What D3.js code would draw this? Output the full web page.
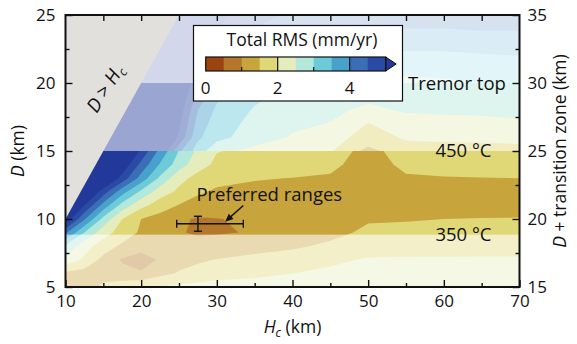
<!DOCTYPE html>
<html>
<head>
<meta charset="utf-8">
<script src="https://cdn.jsdelivr.net/npm/d3@7"></script>
<style>
  body { margin: 0; background: #fff; }
  svg { display: block; font-family: "Open Sans", sans-serif; }
</style>
</head>
<body>
<svg id="chart" width="577" height="344"></svg>
<script>
// grid of the RMS field (mm/yr), rows = D (km), columns = Hc (km)
// D = 15 appears twice: the field jumps at the 450 °C line
const hcGrid = [10, 12.5, 15, 17.5, 20, 22.5, 25, 27.5, 30, 35, 40, 45, 50, 55, 60, 65, 70];
const dGrid = [5, 6, 7, 8, 9, 10, 11, 12, 13, 14, 15, 15, 16, 17, 18, 19, 20, 21, 22, 23, 24, 25];
const rms = [
  [0.9, 1.3, 1.6, 1.8, 1.95, 2.05, 2.1, 2.15, 2.2, 2.2, 2.2, 2.2, 2.2, 2.2, 2.2, 2.2, 2.2],
  [1.4, 1.3, 1.3, 1.15, 1.05, 1.35, 1.55, 1.7, 1.8, 1.9, 2.0, 2.1, 2.15, 2.15, 2.15, 2.15, 2.15],
  [2.4, 1.9, 1.35, 0.95, 0.82, 1.05, 1.3, 1.42, 1.52, 1.65, 1.75, 1.9, 2.05, 2.05, 2.05, 2.05, 2.05],
  [2.9, 2.2, 1.75, 1.4, 1.15, 1.15, 1.12, 1.15, 1.2, 1.3, 1.42, 1.6, 1.75, 1.8, 1.82, 1.85, 1.85],
  [4.1, 3.0, 2.2, 1.8, 1.42, 1.2, 1.03, 0.95, 0.96, 1.03, 1.2, 1.35, 1.6, 1.62, 1.65, 1.68, 1.7],
  [5.4, 4.05, 2.85, 2.0, 1.5, 1.3, 1.08, 0.95, 0.98, 1.1, 1.2, 1.3, 1.45, 1.47, 1.5, 1.52, 1.53],
  [6, 5.0, 3.8, 2.8, 2.15, 1.75, 1.47, 1.35, 1.3, 1.25, 1.2, 1.2, 1.2, 1.22, 1.25, 1.25, 1.25],
  [6, 5.8, 4.75, 3.7, 2.9, 2.25, 1.9, 1.55, 1.45, 1.38, 1.35, 1.3, 1.25, 1.3, 1.3, 1.3, 1.3],
  [6, 6, 5.8, 4.8, 3.8, 2.9, 2.15, 1.85, 1.6, 1.53, 1.49, 1.45, 1.3, 1.45, 1.47, 1.49, 1.5],
  [6, 6, 6, 5.4, 4.35, 3.45, 2.75, 2.2, 1.9, 1.82, 1.75, 1.6, 1.3, 1.6, 1.7, 1.7, 1.7],
  [6, 6, 6, 6, 4.9, 3.85, 2.98, 2.4, 2.02, 1.88, 1.82, 1.72, 1.35, 1.72, 1.78, 1.78, 1.78],
  [6.5, 6.5, 6.5, 6.5, 6.5, 5.6, 4.1, 3.25, 2.65, 2.35, 2.2, 2.05, 1.35, 1.85, 1.9, 1.92, 1.95],
  [6.5, 6.5, 6.5, 6.5, 6.5, 6, 4.9, 3.6, 3.15, 2.75, 2.45, 2.2, 1.8, 2.05, 2.05, 2.05, 2.05],
  [6.5, 6.5, 6.5, 6.5, 6.5, 6.3, 5.1, 3.8, 3.25, 2.85, 2.6, 2.48, 1.98, 2.3, 2.3, 2.35, 2.4],
  [6.5, 6.5, 6.5, 6.5, 6.5, 6.4, 5.3, 4.0, 3.4, 2.95, 2.75, 2.6, 2.4, 2.55, 2.6, 2.6, 2.65],
  [6.5, 6.5, 6.5, 6.5, 6.5, 6.4, 5.5, 4.3, 3.6, 3.1, 2.85, 2.75, 2.6, 2.7, 2.75, 2.8, 2.8],
  [6.5, 6.5, 6.5, 6.5, 6.5, 6.5, 5.7, 4.6, 3.9, 3.35, 3.05, 2.95, 2.85, 2.9, 2.95, 3.0, 3.0],
  [6.5, 6.5, 6.5, 6.5, 6.5, 6.5, 6, 5.0, 4.2, 3.6, 3.3, 3.2, 3.1, 3.1, 3.1, 3.15, 3.15],
  [6.5, 6.5, 6.5, 6.5, 6.5, 6.5, 6, 5.3, 4.5, 3.9, 3.6, 3.5, 3.4, 3.4, 3.4, 3.45, 3.5],
  [6.5, 6.5, 6.5, 6.5, 6.5, 6.5, 6.2, 5.5, 4.8, 4.2, 3.9, 3.8, 3.7, 3.7, 3.7, 3.75, 3.75],
  [6.5, 6.5, 6.5, 6.5, 6.5, 6.5, 6.3, 5.7, 5.0, 4.5, 4.2, 4.1, 4.0, 4.0, 4.0, 4.05, 4.05],
  [6.5, 6.5, 6.5, 6.5, 6.5, 6.5, 6.4, 5.8, 5.2, 4.7, 4.4, 4.3, 4.2, 4.2, 4.2, 4.2, 4.2]
];

const levels = [0.5, 1, 1.5, 2, 2.5, 3, 3.5, 4, 4.5, 5];
const levelColors = ['#9b4412', '#b3782b', '#c8a43d', '#e0d777', '#e6edbd', '#b3e8da',
  '#6dcbd9', '#48a0cc', '#3a6fb6', '#2b4aa6', '#22399a'];

const xTicks = [10, 20, 30, 40, 50, 60, 70];
const yTicks = [5, 10, 15, 20, 25];
const rightTicks = [15, 20, 25, 30, 35];
const cbTicks = [0, 2, 4];

// faded depth bands outside the tremor zone
const washBands = [
  { from: 20, to: 25, opacity: 0.8 },
  { from: 15, to: 20, opacity: 0.55 },
  { from: 5, to: 8.85, opacity: 0.6 }
];
const isotherms = [
  { label: '450 °C', hc: 66.3, d: 15.05 },
  { label: '350 °C', hc: 66.3, d: 8.9 }
];
const tremorTop = { label: 'Tremor top', hc: 68.2, d: 20 };
const preferred = { hc: 27.5, hcRange: [24.7, 33.5], d: 9.65, dRange: [9.1, 10.2] };

const svg = d3.select('#chart');
const plot = { left: 65.5, right: 519.5, top: 15, bottom: 287 };
const x = d3.scaleLinear().domain([10, 70]).range([plot.left, plot.right]);
const y = d3.scaleLinear().domain([5, 25]).range([plot.bottom, plot.top]);
const yRight = d3.scaleLinear().domain([15, 35]).range([plot.bottom, plot.top]);
const labelSize = 17.5, annSize = 18.5, tickSize = 17;

svg.append('defs').append('clipPath').attr('id', 'plotClip')
  .append('rect')
  .attr('x', plot.left).attr('y', plot.top)
  .attr('width', plot.right - plot.left).attr('height', plot.bottom - plot.top);

// contour field, grid index -> (Hc, D) through polylinear scales
const colIndex = d3.scaleLinear().domain(d3.range(hcGrid.length)).range(hcGrid).clamp(true);
const rowIndex = d3.scaleLinear().domain(d3.range(dGrid.length)).range(dGrid).clamp(true);
const contours = d3.contours().size([hcGrid.length, dGrid.length]).thresholds(levels)(rms.flat());
const proj = d3.geoTransform({
  point(px, py) {
    this.stream.point(x(colIndex(px - 0.5)), y(rowIndex(py - 0.5)));
  }
});
const path = d3.geoPath(proj);

const field = svg.append('g').attr('clip-path', 'url(#plotClip)');
field.append('rect')
  .attr('x', plot.left).attr('y', plot.top)
  .attr('width', plot.right - plot.left).attr('height', plot.bottom - plot.top)
  .attr('fill', levelColors[0]);
field.selectAll('path.band')
  .data(contours)
  .join('path')
  .attr('class', 'band')
  .attr('d', path)
  .attr('fill', (d, i) => levelColors[i + 1]);

field.selectAll('rect.wash')
  .data(washBands)
  .join('rect')
  .attr('class', 'wash')
  .attr('x', plot.left).attr('width', plot.right - plot.left)
  .attr('y', (d) => y(d.to)).attr('height', (d) => y(d.from) - y(d.to))
  .attr('fill', '#fff').attr('fill-opacity', (d) => d.opacity);

// D > Hc is not allowed
field.append('path')
  .attr('d', d3.line().x((d) => x(d[0])).y((d) => y(d[1]))([[10, 10], [25, 25], [10, 25]]))
  .attr('fill', '#e1e0dc');

// axes, ticks inward
const tickStyle = (g) => g.call((s) => s.select('.domain').remove())
  .call((s) => s.selectAll('.tick line').attr('stroke', '#111').attr('stroke-width', 1.4))
  .call((s) => s.selectAll('.tick text').attr('fill', '#111').attr('font-size', tickSize)
    .attr('font-family', '"Open Sans", sans-serif'));

svg.append('g').attr('transform', `translate(0,${plot.bottom})`)
  .call(d3.axisBottom(x).tickValues(d3.range(15, 70, 10)).tickSize(-4).tickFormat(''))
  .call(tickStyle);
svg.append('g').attr('transform', `translate(0,${plot.bottom})`)
  .call(d3.axisBottom(x).tickValues(xTicks).tickSize(-7).tickPadding(8))
  .call(tickStyle);
svg.append('g').attr('transform', `translate(0,${plot.top})`)
  .call(d3.axisTop(x).tickValues(d3.range(15, 70, 5)).tickSize(-6).tickFormat(''))
  .call(tickStyle);
svg.append('g').attr('transform', `translate(${plot.left},0)`)
  .call(d3.axisLeft(y).tickValues(d3.range(7.5, 25, 5)).tickSize(-4).tickFormat(''))
  .call(tickStyle);
svg.append('g').attr('transform', `translate(${plot.left},0)`)
  .call(d3.axisLeft(y).tickValues(yTicks).tickSize(-7).tickPadding(10))
  .call(tickStyle);
svg.append('g').attr('transform', `translate(${plot.right},0)`)
  .call(d3.axisRight(yRight).tickValues(d3.range(17.5, 35, 5)).tickSize(-4).tickFormat(''))
  .call(tickStyle);
svg.append('g').attr('transform', `translate(${plot.right},0)`)
  .call(d3.axisRight(yRight).tickValues(rightTicks).tickSize(-7).tickPadding(8))
  .call(tickStyle);

svg.append('rect')
  .attr('x', plot.left).attr('y', plot.top)
  .attr('width', plot.right - plot.left).attr('height', plot.bottom - plot.top)
  .attr('fill', 'none').attr('stroke', '#111').attr('stroke-width', 2);

// axis titles
const bottomTitle = svg.append('text')
  .attr('x', (plot.left + plot.right) / 2).attr('y', 333)
  .attr('text-anchor', 'middle').attr('font-size', labelSize).attr('fill', '#111');
bottomTitle.append('tspan').attr('font-style', 'italic').text('H');
bottomTitle.append('tspan').attr('font-style', 'italic').attr('font-size', 12).attr('dy', 4).text('c');
bottomTitle.append('tspan').attr('dy', -4).text(' (km)');

const leftTitle = svg.append('text')
  .attr('transform', `translate(24,${(plot.top + plot.bottom) / 2}) rotate(-90)`)
  .attr('text-anchor', 'middle').attr('font-size', labelSize).attr('fill', '#111');
leftTitle.append('tspan').attr('font-style', 'italic').text('D');
leftTitle.append('tspan').text(' (km)');

const rightTitle = svg.append('text')
  .attr('transform', `translate(566,${(plot.top + plot.bottom) / 2}) rotate(-90)`)
  .attr('text-anchor', 'middle').attr('font-size', labelSize).attr('fill', '#111');
rightTitle.append('tspan').attr('font-style', 'italic').text('D');
rightTitle.append('tspan').text(' + transition zone (km)');

// labels inside the plot
const ann = svg.append('g').attr('fill', '#111').attr('font-size', annSize);
ann.selectAll('text.iso')
  .data(isotherms.concat([tremorTop]))
  .join('text')
  .attr('class', 'iso')
  .attr('x', (d) => x(d.hc)).attr('y', (d) => y(d.d))
  .attr('dy', '0.36em').attr('text-anchor', 'end')
  .text((d) => d.label);

const dh = ann.append('text')
  .attr('transform', `translate(${x(15.2)},${y(19.6)}) rotate(-58)`)
  .attr('text-anchor', 'middle').attr('dy', '0.35em').attr('font-size', 19);
dh.append('tspan').attr('font-style', 'italic').text('D');
dh.append('tspan').text(' > ');
dh.append('tspan').attr('font-style', 'italic').text('H');
dh.append('tspan').attr('font-style', 'italic').attr('font-size', 12.5).attr('dy', 4).text('c');

ann.append('text')
  .attr('x', x(27.3)).attr('y', y(11.85)).attr('dy', '0.36em')
  .text('Preferred ranges');

// error bars of the preferred Hc and D
const eb = svg.append('g').attr('stroke', '#111').attr('stroke-width', 1.4).attr('fill', 'none');
eb.append('line')
  .attr('x1', x(preferred.hcRange[0])).attr('x2', x(preferred.hcRange[1]))
  .attr('y1', y(preferred.d)).attr('y2', y(preferred.d));
preferred.hcRange.forEach((v) => {
  eb.append('line').attr('x1', x(v)).attr('x2', x(v))
    .attr('y1', y(preferred.d) - 4).attr('y2', y(preferred.d) + 4);
});
eb.append('line')
  .attr('x1', x(preferred.hc)).attr('x2', x(preferred.hc))
  .attr('y1', y(preferred.dRange[0])).attr('y2', y(preferred.dRange[1]));
preferred.dRange.forEach((v) => {
  eb.append('line').attr('x1', x(preferred.hc) - 4).attr('x2', x(preferred.hc) + 4)
    .attr('y1', y(v)).attr('y2', y(v));
});

// arrow from the label to the bars
const ax0 = x(33.5), ay0 = y(11.0), ax1 = x(31.1), ay1 = y(9.8);
const ang = Math.atan2(ay1 - ay0, ax1 - ax0);
eb.append('line').attr('x1', ax0).attr('y1', ay0)
  .attr('x2', ax1 - 5 * Math.cos(ang)).attr('y2', ay1 - 5 * Math.sin(ang));
svg.append('path')
  .attr('d', d3.line()([
    [ax1, ay1],
    [ax1 - 8 * Math.cos(ang) + 3.5 * Math.sin(ang), ay1 - 8 * Math.sin(ang) - 3.5 * Math.cos(ang)],
    [ax1 - 8 * Math.cos(ang) - 3.5 * Math.sin(ang), ay1 - 8 * Math.sin(ang) + 3.5 * Math.cos(ang)]
  ]) + 'Z')
  .attr('fill', '#111');

// colour bar legend
const legend = svg.append('g');
legend.append('rect')
  .attr('x', 193.5).attr('y', 25.5).attr('width', 209).attr('height', 75.5)
  .attr('fill', '#fff').attr('stroke', '#111').attr('stroke-width', 1.2);
legend.append('text')
  .attr('x', 302).attr('y', 46).attr('text-anchor', 'middle')
  .attr('font-size', labelSize).attr('fill', '#111')
  .text('Total RMS (mm/yr)');

const cb = d3.scaleLinear().domain([0, 5]).range([205.7, 385.7]);
const cbTop = 57, cbBottom = 71;
const steps = d3.range(levels.length).map((i) => [i === 0 ? 0 : levels[i - 1], levels[i]]);
legend.selectAll('rect.step')
  .data(steps)
  .join('rect')
  .attr('class', 'step')
  .attr('x', (d) => cb(d[0])).attr('width', (d) => cb(d[1]) - cb(d[0]) + 0.3)
  .attr('y', cbTop).attr('height', cbBottom - cbTop)
  .attr('fill', (d, i) => levelColors[i]);
legend.append('path')
  .attr('d', `M${cb(5)},${cbTop}L${cb(5) + 10.5},${(cbTop + cbBottom) / 2}L${cb(5)},${cbBottom}Z`)
  .attr('fill', levelColors[10]).attr('stroke', '#111').attr('stroke-width', 1);
legend.append('rect')
  .attr('x', cb(0)).attr('y', cbTop).attr('width', cb(5) - cb(0)).attr('height', cbBottom - cbTop)
  .attr('fill', 'none').attr('stroke', '#111').attr('stroke-width', 1.2);
legend.selectAll('line.major')
  .data([2, 4])
  .join('line')
  .attr('class', 'major')
  .attr('x1', (d) => cb(d)).attr('x2', (d) => cb(d))
  .attr('y1', cbTop).attr('y2', cbBottom)
  .attr('stroke', '#111').attr('stroke-width', 1.2);
legend.selectAll('line.minor')
  .data([1, 3])
  .join('line')
  .attr('class', 'minor')
  .attr('x1', (d) => cb(d)).attr('x2', (d) => cb(d))
  .attr('y1', cbBottom - 4).attr('y2', cbBottom)
  .attr('stroke', '#111').attr('stroke-width', 1.2);
legend.selectAll('text.cbt')
  .data(cbTicks)
  .join('text')
  .attr('class', 'cbt')
  .attr('x', (d) => cb(d)).attr('y', 94)
  .attr('text-anchor', 'middle').attr('font-size', tickSize).attr('fill', '#111')
  .text((d) => d);
</script>
</body>
</html>
